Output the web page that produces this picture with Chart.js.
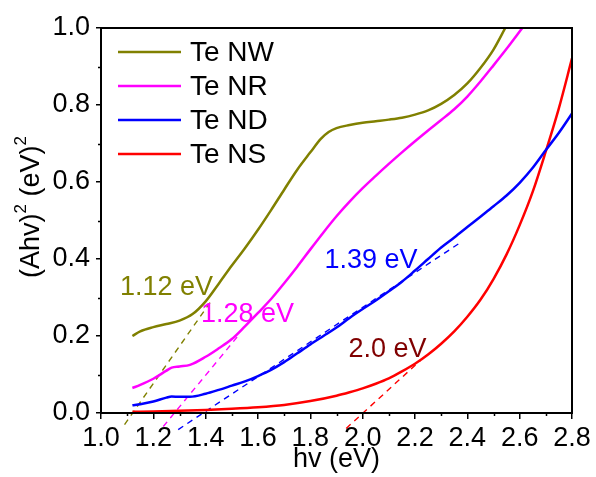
<!DOCTYPE html>
<html>
<head>
<meta charset="utf-8">
<title>Tauc plot - Te nanostructures</title>
<script src="https://cdn.jsdelivr.net/npm/chart.js@4.4.1/dist/chart.umd.min.js"></script>
<style>
  html, body { margin: 0; padding: 0; background: #fff; }
  canvas { display: block; }
</style>
</head>
<body>
<canvas id="taucChart" width="596" height="477"></canvas>
<script>
// photon energy hv (eV) and (Ahv)^2 for each sample
const nwEnergy = [1.12, 1.15, 1.20, 1.25, 1.30, 1.35, 1.40, 1.45, 1.50, 1.55, 1.60, 1.65, 1.70, 1.75, 1.80, 1.84, 1.87, 1.90, 1.95, 2.00, 2.05, 2.10, 2.15, 2.20, 2.25, 2.30, 2.35, 2.40, 2.45, 2.50, 2.545];
const nwAbs    = [0.200, 0.212, 0.223, 0.231, 0.240, 0.257, 0.290, 0.336, 0.383, 0.428, 0.476, 0.527, 0.580, 0.632, 0.677, 0.712, 0.730, 0.740, 0.748, 0.754, 0.758, 0.762, 0.767, 0.775, 0.786, 0.803, 0.826, 0.856, 0.896, 0.944, 1.000];

const nrEnergy = [1.12, 1.15, 1.20, 1.25, 1.27, 1.30, 1.34, 1.40, 1.45, 1.50, 1.55, 1.60, 1.65, 1.70, 1.75, 1.80, 1.85, 1.90, 1.95, 2.00, 2.05, 2.10, 2.15, 2.20, 2.25, 2.30, 2.35, 2.40, 2.45, 2.50, 2.55, 2.61];
const nrAbs    = [0.065, 0.073, 0.089, 0.110, 0.118, 0.121, 0.125, 0.146, 0.168, 0.192, 0.225, 0.260, 0.296, 0.337, 0.380, 0.425, 0.469, 0.511, 0.549, 0.584, 0.616, 0.647, 0.677, 0.706, 0.734, 0.761, 0.789, 0.822, 0.861, 0.903, 0.946, 1.000];

const ndEnergy = [1.12, 1.15, 1.20, 1.25, 1.27, 1.30, 1.34, 1.40, 1.45, 1.50, 1.55, 1.60, 1.65, 1.70, 1.75, 1.80, 1.85, 1.90, 1.95, 2.00, 2.05, 2.10, 2.15, 2.20, 2.25, 2.30, 2.35, 2.40, 2.45, 2.50, 2.55, 2.60, 2.65, 2.70, 2.75, 2.80];
const ndAbs    = [0.020, 0.023, 0.030, 0.040, 0.043, 0.042, 0.042, 0.050, 0.060, 0.071, 0.082, 0.096, 0.112, 0.132, 0.155, 0.178, 0.200, 0.222, 0.247, 0.270, 0.292, 0.316, 0.341, 0.370, 0.400, 0.430, 0.456, 0.483, 0.510, 0.537, 0.565, 0.598, 0.637, 0.683, 0.728, 0.778];

const nsEnergy = [1.12, 1.20, 1.30, 1.40, 1.50, 1.60, 1.70, 1.80, 1.90, 1.95, 2.00, 2.05, 2.10, 2.15, 2.20, 2.25, 2.30, 2.35, 2.40, 2.45, 2.50, 2.55, 2.60, 2.65, 2.70, 2.75, 2.80];
const nsAbs    = [0.003, 0.004, 0.006, 0.008, 0.011, 0.015, 0.021, 0.031, 0.045, 0.054, 0.064, 0.076, 0.090, 0.108, 0.128, 0.152, 0.180, 0.212, 0.250, 0.294, 0.348, 0.412, 0.488, 0.575, 0.680, 0.792, 0.921];

const seriesNames  = ['Te NW', 'Te NR', 'Te ND', 'Te NS'];
const seriesColors = ['#808000', '#ff00ff', '#0000ff', '#ff0000'];
const seriesEnergy = [nwEnergy, nrEnergy, ndEnergy, nsEnergy];
const seriesAbs    = [nwAbs, nrAbs, ndAbs, nsAbs];

// straight-line fits of the absorption edge, run down past the energy axis
const fitEnergy = [[1.09, 1.42], [1.238, 1.52], [1.295, 2.372], [1.937, 2.22]];
const fitAbs    = [[-0.030, 0.290], [-0.035, 0.197], [-0.043, 0.442], [-0.040, 0.136]];

// band gaps
const gapLabels = ['1.12 eV', '1.28 eV', '1.39 eV', '2.0 eV'];
const gapColors = ['#808000', '#ff00ff', '#0000ff', '#800000'];

const xMinorTicks = [1.1, 1.3, 1.5, 1.7, 1.9, 2.1, 2.3, 2.5, 2.7];
const yMinorTicks = [0.1, 0.3, 0.5, 0.7, 0.9];

const FONT = "'Liberation Sans', Arial, sans-serif";

const toPoints = (xs, ys) => xs.map((x, i) => ({ x: x, y: ys[i] }));

const datasets = [];
seriesNames.forEach((name, i) => {
    datasets.push({
        label: name,
        data: toPoints(seriesEnergy[i], seriesAbs[i]),
        borderColor: seriesColors[i],
        borderWidth: 2.5,
        pointRadius: 0,
        cubicInterpolationMode: 'monotone',
        fill: false
    });
});
seriesNames.forEach((name, i) => {
    datasets.push({
        label: name + ' fit',
        data: toPoints(fitEnergy[i], fitAbs[i]),
        borderColor: seriesColors[i],
        borderWidth: 1.4,
        borderDash: [6, 5],
        pointRadius: 0,
        fill: false,
        clip: false
    });
});

// frame, minor ticks, rotated y title with superscripts
const framePlugin = {
    id: 'frame',
    afterDraw(chart) {
        const ctx = chart.ctx;
        const a = chart.chartArea;
        const xs = chart.scales.x, ys = chart.scales.y;
        ctx.save();
        ctx.strokeStyle = '#000';
        ctx.lineWidth = 2;
        ctx.strokeRect(a.left, a.top, a.right - a.left, a.bottom - a.top);

        ctx.lineWidth = 1.5;
        ctx.beginPath();
        xMinorTicks.forEach(v => {
            const px = Math.round(xs.getPixelForValue(v)) + 0.5;
            ctx.moveTo(px, a.bottom);
            ctx.lineTo(px, a.bottom + 3);
        });
        yMinorTicks.forEach(v => {
            const py = Math.round(ys.getPixelForValue(v)) + 0.5;
            ctx.moveTo(a.left, py);
            ctx.lineTo(a.left - 3, py);
        });
        ctx.stroke();

        // (Ahv)^2 (eV)^2
        const parts = [['(Ahv)', 27, 0], ['2', 17, -11], [' (eV)', 27, 0], ['2', 17, -11]];
        let total = 0;
        parts.forEach(p => { ctx.font = p[1] + 'px ' + FONT; total += ctx.measureText(p[0]).width; });
        ctx.translate(32, 207);
        ctx.rotate(-Math.PI / 2);
        ctx.fillStyle = '#000';
        ctx.textBaseline = 'middle';
        let cx = -total / 2;
        parts.forEach(p => {
            ctx.font = p[1] + 'px ' + FONT;
            ctx.fillText(p[0], cx, p[2]);
            cx += ctx.measureText(p[0]).width;
        });
        ctx.restore();
    }
};

const legendPlugin = {
    id: 'lineLegend',
    afterDatasetsDraw(chart, args, opts) {
        const ctx = chart.ctx;
        ctx.save();
        ctx.font = '28px ' + FONT;
        ctx.textBaseline = 'middle';
        seriesNames.forEach((name, i) => {
            const y = opts.top + i * opts.spacing;
            ctx.strokeStyle = seriesColors[i];
            ctx.lineWidth = 2.5;
            ctx.beginPath();
            ctx.moveTo(opts.left, y);
            ctx.lineTo(opts.left + opts.lineLength, y);
            ctx.stroke();
            ctx.fillStyle = '#000';
            ctx.fillText(name, opts.left + opts.lineLength + opts.gap, y + 1);
        });
        ctx.restore();
    }
};

const gapLabelPlugin = {
    id: 'gapLabels',
    afterDatasetsDraw(chart, args, opts) {
        const ctx = chart.ctx;
        const xs = chart.scales.x, ys = chart.scales.y;
        ctx.save();
        ctx.font = '27px ' + FONT;
        ctx.textAlign = 'center';
        ctx.textBaseline = 'middle';
        gapLabels.forEach((text, i) => {
            const pos = opts.at[i];
            ctx.fillStyle = gapColors[i];
            ctx.fillText(text, xs.getPixelForValue(pos.x), ys.getPixelForValue(pos.y));
        });
        ctx.restore();
    }
};

new Chart(document.getElementById('taucChart'), {
    type: 'line',
    data: { datasets: datasets },
    plugins: [framePlugin, legendPlugin, gapLabelPlugin],
    options: {
        responsive: false,
        animation: false,
        devicePixelRatio: 1,
        layout: { padding: { top: 28, right: 24, left: 0, bottom: 0 } },
        plugins: {
            legend: { display: false },
            tooltip: { enabled: false },
            lineLegend: { left: 118, top: 52, spacing: 34, lineLength: 63, gap: 9 },
            gapLabels: {
                at: [
                    { x: 1.250, y: 0.325 },
                    { x: 1.560, y: 0.255 },
                    { x: 2.032, y: 0.395 },
                    { x: 2.095, y: 0.166 }
                ]
            }
        },
        scales: {
            x: {
                type: 'linear',
                min: 1.0,
                max: 2.8,
                afterFit: scale => { scale.height = 64; },
                border: { display: true, color: '#000', width: 2 },
                grid: { drawOnChartArea: false, color: '#000', lineWidth: 1.5, tickLength: 6 },
                ticks: {
                    stepSize: 0.2,
                    color: '#000',
                    padding: 3,
                    maxRotation: 0,
                    font: { family: FONT, size: 27 },
                    callback: v => Number(v).toFixed(1)
                },
                title: {
                    display: true,
                    text: 'hv (eV)',
                    color: '#000',
                    padding: { top: 0, bottom: 1 },
                    font: { family: FONT, size: 27 }
                }
            },
            y: {
                type: 'linear',
                min: 0,
                max: 1.0,
                afterFit: scale => { scale.width = 101; },
                border: { display: true, color: '#000', width: 2 },
                grid: { drawOnChartArea: false, color: '#000', lineWidth: 1.5, tickLength: 5 },
                ticks: {
                    stepSize: 0.2,
                    color: '#000',
                    padding: 6,
                    font: { family: FONT, size: 27 },
                    callback: v => Number(v).toFixed(1)
                }
            }
        }
    }
});
</script>
</body>
</html>
